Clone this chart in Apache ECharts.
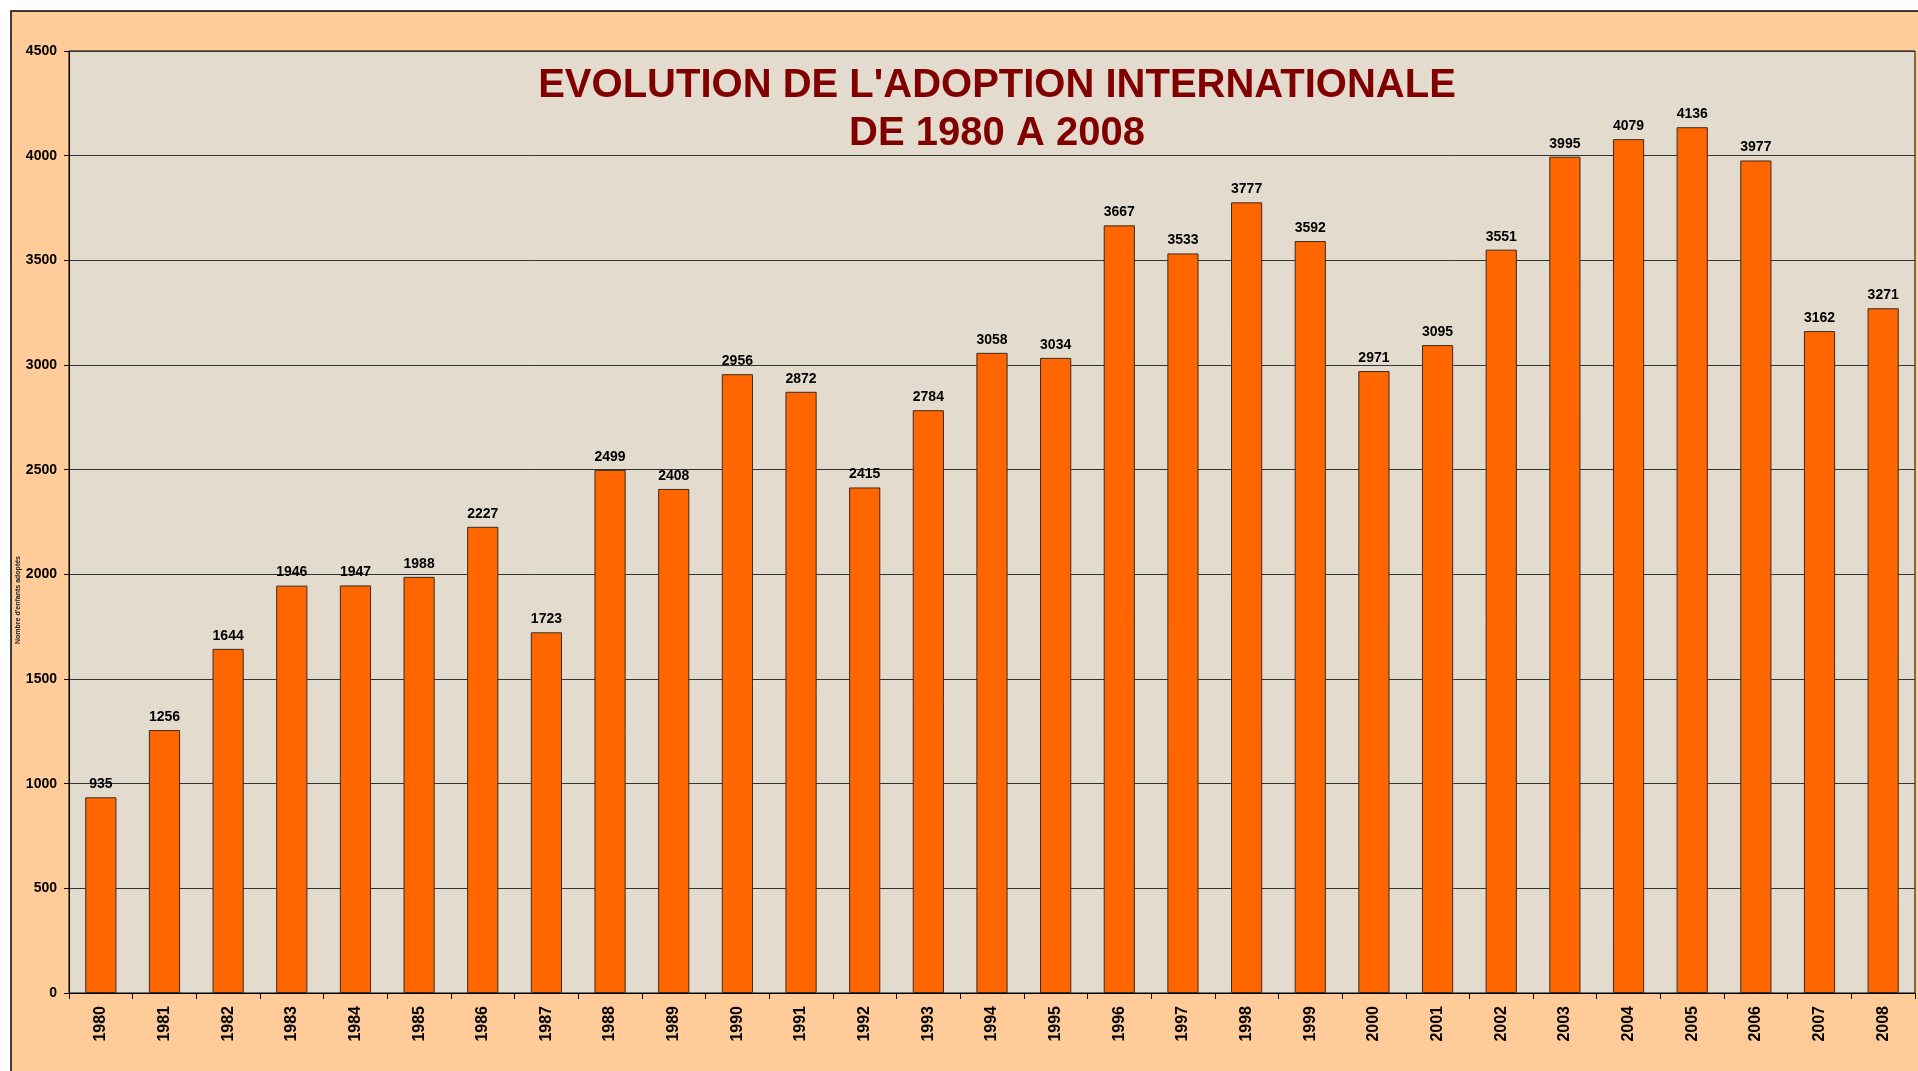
<!DOCTYPE html>
<html>
<head>
<meta charset="utf-8">
<script src="https://cdn.jsdelivr.net/npm/echarts@6/dist/echarts.min.js"></script>
<style>
  html, body { margin: 0; padding: 0; background: #fff; }
  #chart { width: 1918px; height: 1071px; }
</style>
</head>
<body>
<div id="chart"></div>
<script>
// years and number of adoptions
var years = ['1980','1981','1982','1983','1984','1985','1986','1987','1988','1989',
  '1990','1991','1992','1993','1994','1995','1996','1997','1998','1999',
  '2000','2001','2002','2003','2004','2005','2006','2007','2008'];
var adoptions = [935, 1256, 1644, 1946, 1947, 1988, 2227, 1723, 2499, 2408,
  2956, 2872, 2415, 2784, 3058, 3034, 3667, 3533, 3777, 3592,
  2971, 3095, 3551, 3995, 4079, 4136, 3977, 3162, 3271];
var yMin = 0, yMax = 4500, yStep = 500;

var chart = echarts.init(document.getElementById('chart'));

var option = {
  backgroundColor: '#ffffff',
  animation: false,
  textStyle: { fontFamily: 'Liberation Sans, Arial, sans-serif' },
  title: {
    text: "EVOLUTION DE L'ADOPTION INTERNATIONALE\nDE 1980 A 2008",
    left: 992,
    top: 57,
    textAlign: 'center',
    textStyle: {
      color: '#800000',
      fontSize: 40,
      fontWeight: 'bold',
      lineHeight: 48
    }
  },
  graphic: [
    {
      type: 'rect',
      z: -10,
      shape: { x: 11, y: 11, width: 1930, height: 1090 },
      style: { fill: '#FFCC99', stroke: '#000', lineWidth: 1.5 }
    },
    {
      type: 'text',
      x: 18,
      y: 600,
      rotation: Math.PI / 2,
      style: {
        text: "Nombre d'enfants adoptés",
        fontSize: 7,
        fontWeight: 'bold',
        fill: '#222',
        align: 'center',
        verticalAlign: 'middle'
      }
    }
  ],
  grid: {
    left: 69,
    top: 51,
    right: 3,
    bottom: 78,
    show: true,
    backgroundColor: '#E3DBCD',
    borderColor: '#000',
    borderWidth: 1
  },
  xAxis: {
    type: 'category',
    data: years,
    axisLine: { lineStyle: { color: '#000', width: 1 } },
    axisTick: { show: true, length: 6, lineStyle: { color: '#000' } },
    axisLabel: {
      rotate: 90,
      interval: 0,
      margin: 13,
      color: '#000',
      fontSize: 16,
      fontWeight: 'bold'
    }
  },
  yAxis: {
    type: 'value',
    min: yMin,
    max: yMax,
    interval: yStep,
    axisLine: { show: true, lineStyle: { color: '#000' } },
    axisTick: { show: true, length: 5, lineStyle: { color: '#000' } },
    axisLabel: {
      margin: 12,
      color: '#000',
      fontSize: 14,
      fontWeight: 'bold',
      formatter: function (v) { return String(v); }
    },
    splitLine: { show: true, lineStyle: { color: '#333', width: 1 } }
  },
  series: [{
    type: 'bar',
    data: adoptions,
    barWidth: '49%',
    itemStyle: {
      color: '#FF6600',
      borderColor: '#3a2a20',
      borderWidth: 1
    },
    label: {
      show: true,
      position: 'top',
      distance: 6,
      color: '#000',
      fontSize: 14,
      fontWeight: 'bold'
    }
  }]
};

chart.setOption(option);
</script>
</body>
</html>
